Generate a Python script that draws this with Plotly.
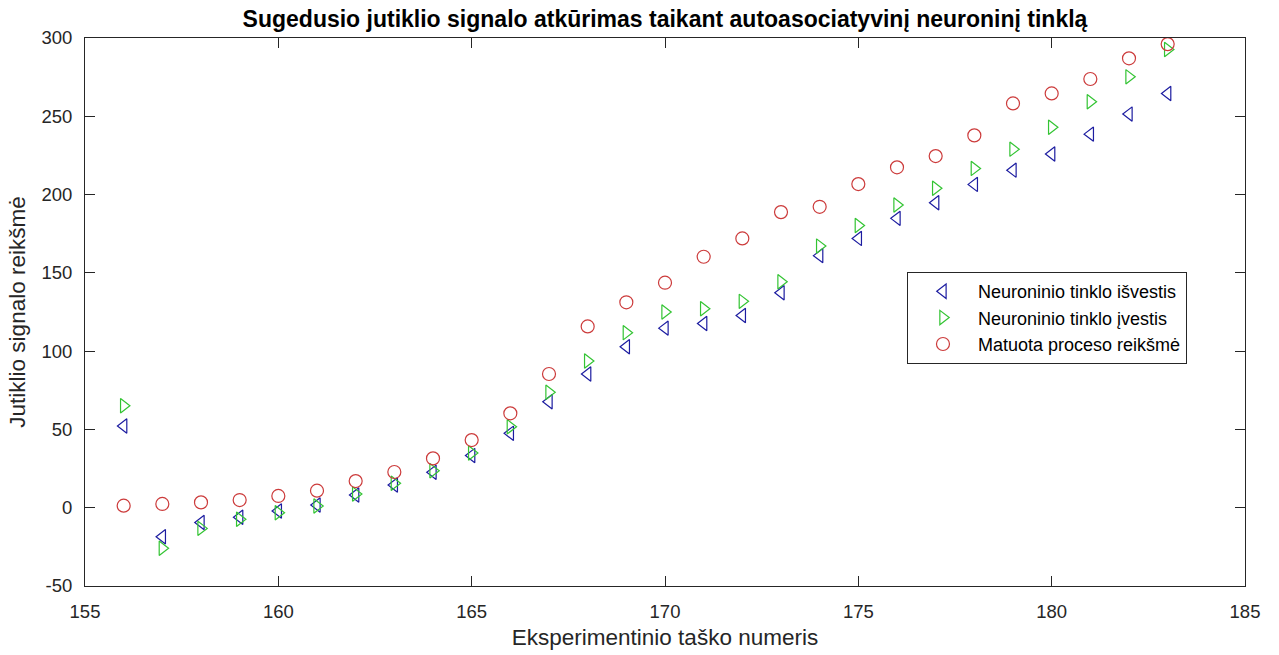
import plotly.graph_objects as go

x_points = list(range(156, 184))

nn_output = [52.2, -18.5, -9.4, -6.1, -2.1, 1.7, 8.1, 14.5, 22.6, 33.3, 47.5, 67.7, 85.4, 102.8,
             114.7, 117.7, 122.8, 137.3, 161.0, 172.0, 184.8, 194.8, 206.5, 215.6, 225.9, 238.6,
             251.4, 264.6]
nn_input = [65.1, -25.9, -13.2, -7.4, -3.2, 1.1, 8.7, 15.6, 23.6, 34.9, 51.7, 73.7, 93.7, 111.8,
            125.0, 127.1, 131.8, 144.3, 167.1, 180.2, 193.3, 204.0, 216.7, 229.0, 243.0, 259.3,
            275.2, 292.7]
measured = [1.3, 2.4, 3.4, 4.9, 7.5, 10.9, 17.0, 22.8, 31.5, 43.2, 60.3, 85.4, 115.8, 131.2,
            143.7, 160.3, 172.0, 188.8, 192.2, 206.7, 217.4, 224.6, 237.8, 258.2, 264.6, 273.8,
            287.0, 296.1]

names = ["Neuroninio tinklo išvestis", "Neuroninio tinklo įvestis", "Matuota proceso reikšmė"]

x_ticks = [155, 160, 165, 170, 175, 180, 185]
y_ticks = [-50, 0, 50, 100, 150, 200, 250, 300]

FONT = "Liberation Sans, Arial, Helvetica, sans-serif"
AXC = "#262626"

fig = go.Figure()
series = [
    (nn_output, names[0], "triangle-left-open", "#1c1ca0", 12.5),
    (nn_input, names[1], "triangle-right-open", "#33c433", 12.5),
    (measured, names[2], "circle-open", "#cc3b3b", 13),
]
for i, (vals, nm, sym, col, sz) in enumerate(series):
    fig.add_trace(go.Scatter(
        x=x_points, y=vals, mode="markers", name=nm, legendgroup=f"g{i}",
        marker=dict(symbol=sym, size=sz, color=col, line=dict(width=1.2, color=col)),
    ))

fig.update_layout(
    width=1279, height=655,
    margin=dict(l=85, r=34, t=38, b=69),
    paper_bgcolor="white", plot_bgcolor="white",
    font=dict(family=FONT, color=AXC),
    title=dict(text="<b>Sugedusio jutiklio signalo atkūrimas taikant autoasociatyvinį neuroninį tinklą</b>",
               x=0.5, xref="paper", xanchor="center", y=1 - 19 / 655, yref="container", yanchor="middle",
               font=dict(size=23, color="black", family=FONT)),
    showlegend=True,
    legend=dict(x=0.7086, y=0.573, xanchor="left", yanchor="top",
                bgcolor="white", bordercolor=AXC, borderwidth=1,
                font=dict(size=18, color="black", family=FONT),
                tracegroupgap=0, itemwidth=60),
)
fig.update_xaxes(
    range=[155, 185], tickvals=x_ticks, ticktext=[str(v) for v in x_ticks],
    showgrid=False, zeroline=False, showline=True, linecolor=AXC, linewidth=1,
    mirror="ticks", ticks="inside", ticklen=10, tickcolor=AXC, automargin=False,
    tickfont=dict(size=18.5, color=AXC), ticklabelstandoff=9,
    title=dict(text="Eksperimentinio taško numeris", font=dict(size=22.5, color=AXC), standoff=8),
)
fig.update_yaxes(
    range=[-50, 300], tickvals=y_ticks, ticktext=[str(v) for v in y_ticks],
    showgrid=False, zeroline=False, showline=True, linecolor=AXC, linewidth=1,
    mirror="ticks", ticks="inside", ticklen=10, tickcolor=AXC, automargin=False,
    tickfont=dict(size=18.5, color=AXC), ticklabelstandoff=8,
    title=dict(text="Jutiklio signalo reikšmė", font=dict(size=22.5, color=AXC), standoff=9),
)

fig.write_html("out.html")
